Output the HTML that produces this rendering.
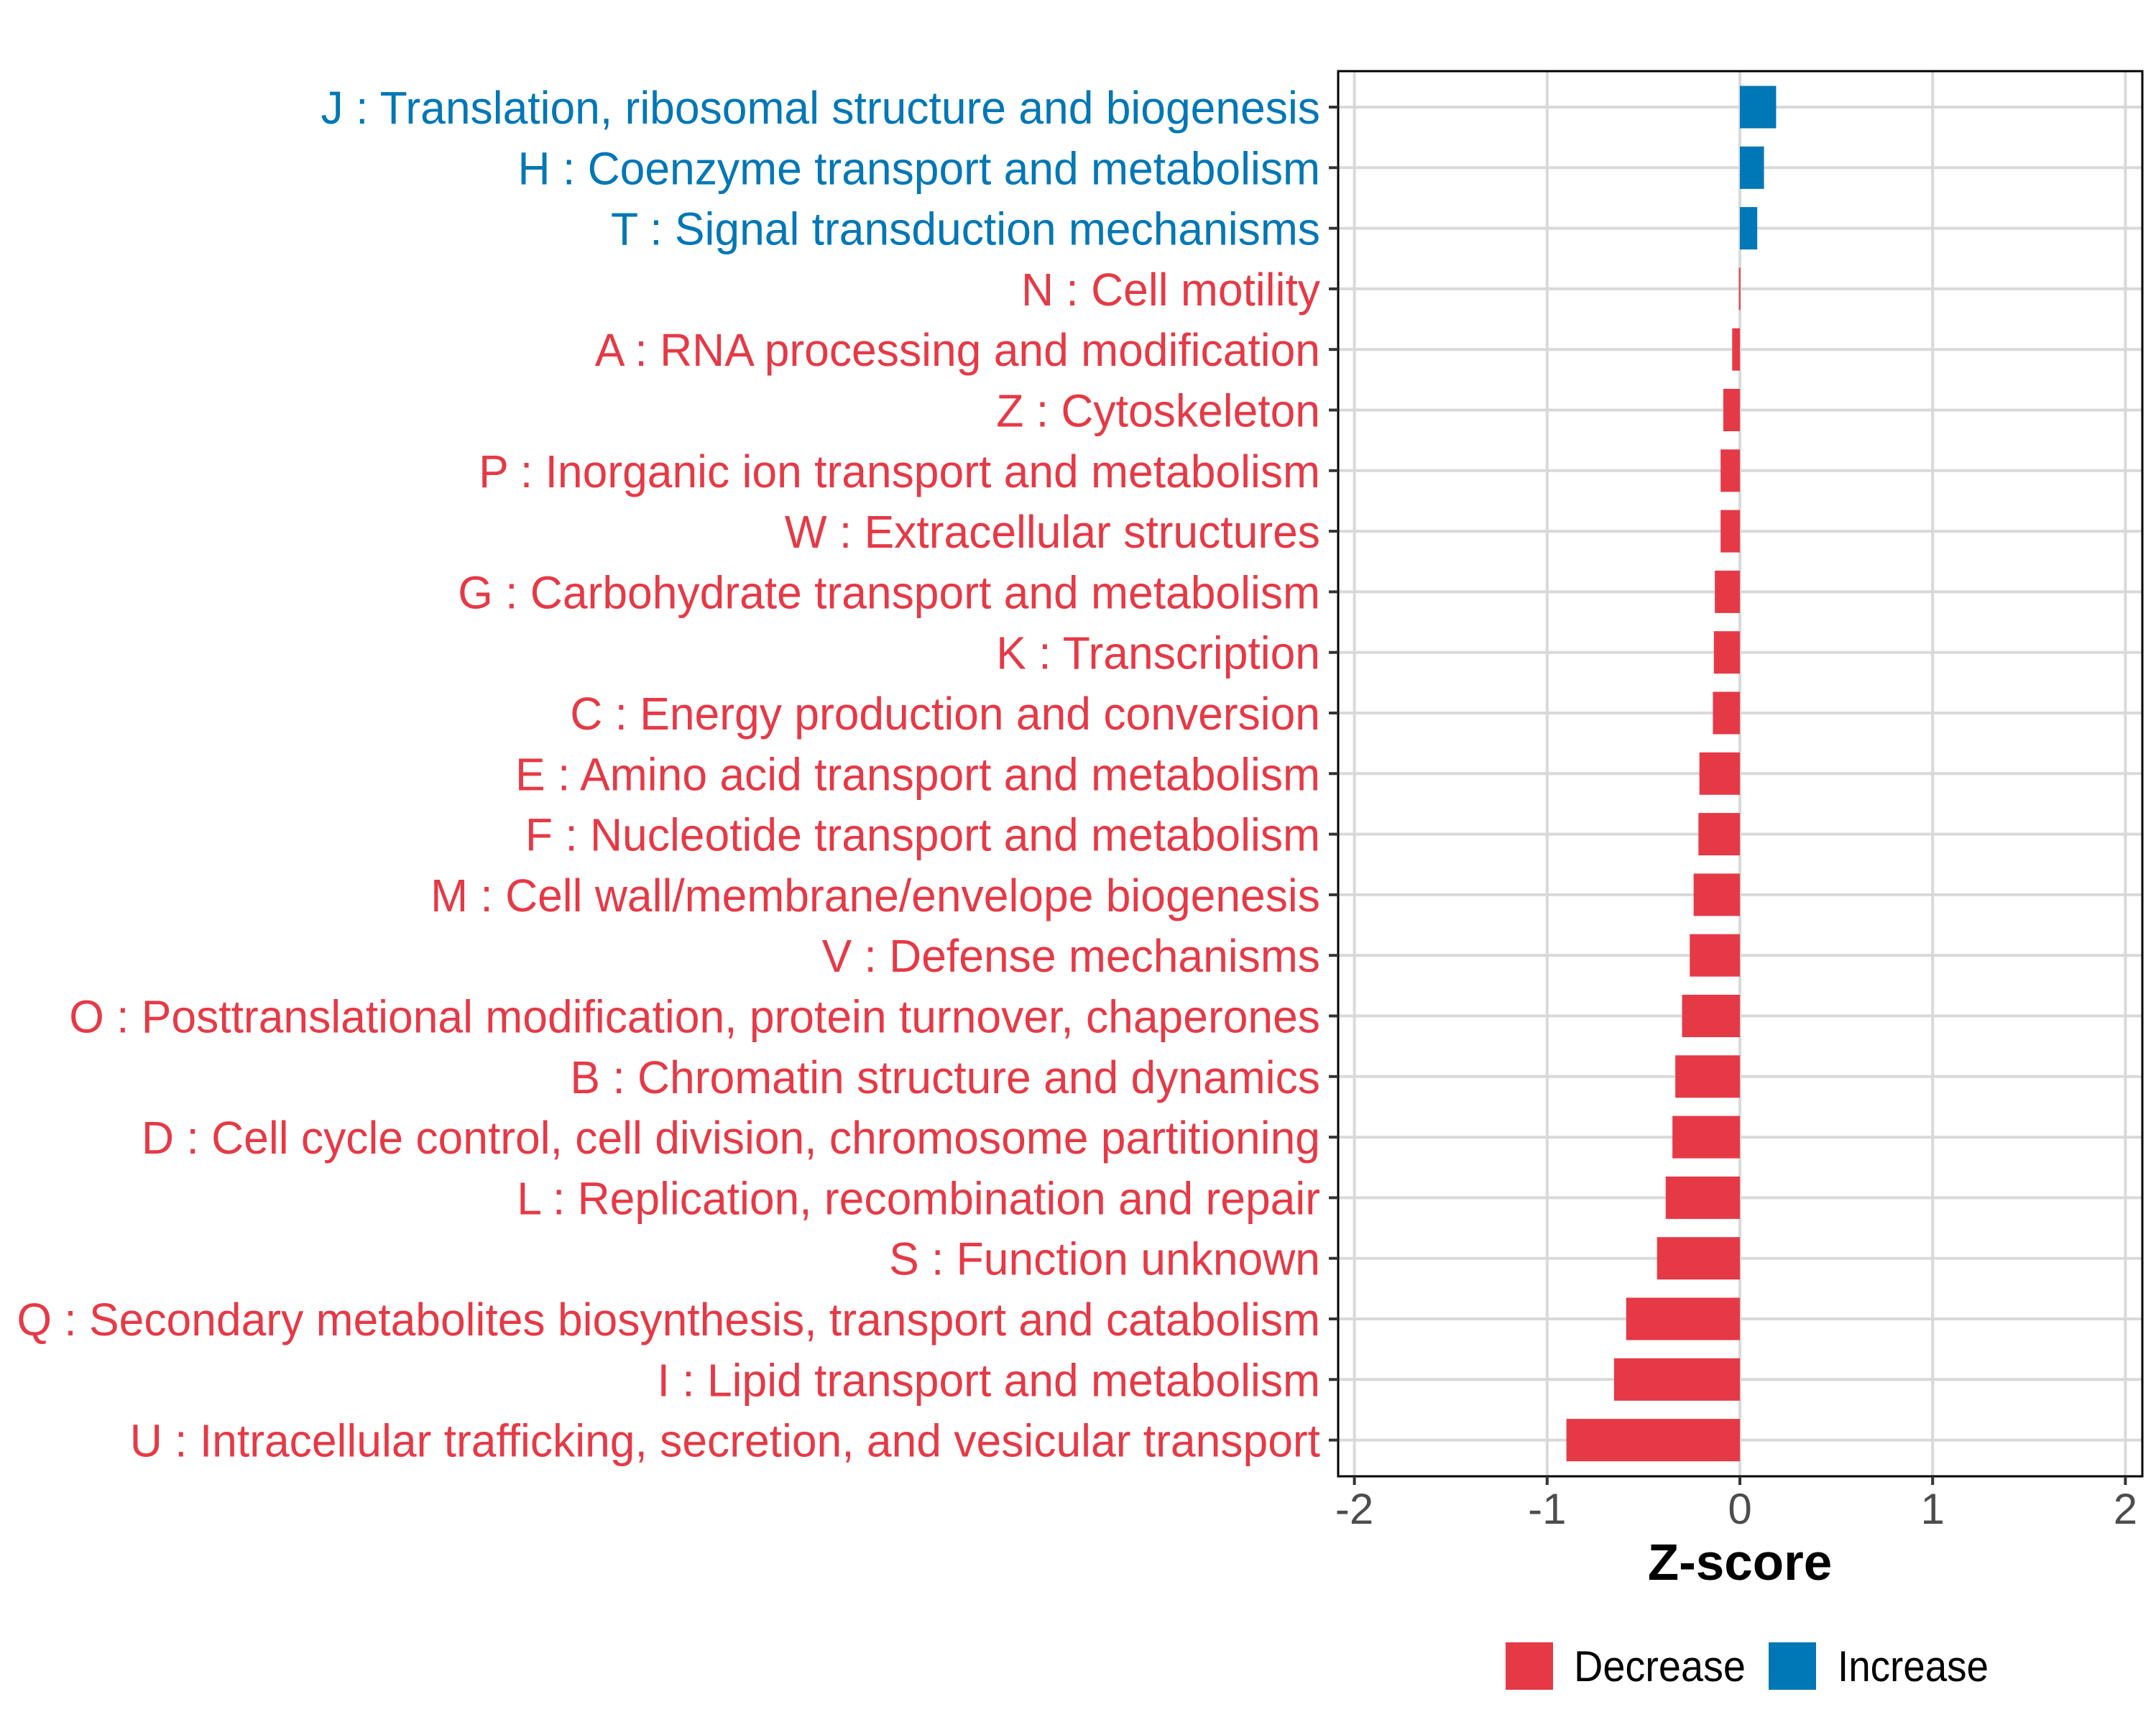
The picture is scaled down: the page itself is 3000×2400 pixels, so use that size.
<!DOCTYPE html>
<html><head><meta charset="utf-8"><style>
html,body{margin:0;padding:0;background:#fff}
svg{display:block}
text{font-family:"Liberation Sans",Arial,sans-serif}
</style></head><body>
<svg id="chart" width="3000" height="2400" viewBox="0 0 3000 2400" xmlns="http://www.w3.org/2000/svg">
<rect x="0" y="0" width="3000" height="2400" fill="#fff"/>
<g id="grid"></g>
<g id="bars"></g>
<rect x="1862" y="99" width="1119" height="1955" fill="none" stroke="#000" stroke-width="3"/>
<g id="yaxis"></g>
<g id="xaxis"></g>
<text x="2421" y="2198" text-anchor="middle" font-size="71" font-weight="bold" fill="#000">Z-score</text>
<g>
<rect x="2095" y="2285" width="66" height="66" fill="#E63946"/>
<text x="2190" y="2339" font-size="60" fill="#000" textLength="239" lengthAdjust="spacingAndGlyphs">Decrease</text>
<rect x="2461" y="2285" width="66" height="66" fill="#0077B6"/>
<text x="2557" y="2339" font-size="60" fill="#000" textLength="210" lengthAdjust="spacingAndGlyphs">Increase</text>
</g>
</svg>
<script>
const categories = [
"J : Translation, ribosomal structure and biogenesis",
"H : Coenzyme transport and metabolism",
"T : Signal transduction mechanisms",
"N : Cell motility",
"A : RNA processing and modification",
"Z : Cytoskeleton",
"P : Inorganic ion transport and metabolism",
"W : Extracellular structures",
"G : Carbohydrate transport and metabolism",
"K : Transcription",
"C : Energy production and conversion",
"E : Amino acid transport and metabolism",
"F : Nucleotide transport and metabolism",
"M : Cell wall/membrane/envelope biogenesis",
"V : Defense mechanisms",
"O : Posttranslational modification, protein turnover, chaperones",
"B : Chromatin structure and dynamics",
"D : Cell cycle control, cell division, chromosome partitioning",
"L : Replication, recombination and repair",
"S : Function unknown",
"Q : Secondary metabolites biosynthesis, transport and catabolism",
"I : Lipid transport and metabolism",
"U : Intracellular trafficking, secretion, and vesicular transport"
];
const zscores = [0.188,0.125,0.09,-0.005,-0.04,-0.086,-0.1,-0.1,-0.13,-0.135,-0.14,-0.21,-0.215,-0.24,-0.26,-0.3,-0.335,-0.35,-0.385,-0.43,-0.59,-0.653,-0.9];
const xTicks = [-2,-1,0,1,2];
const xTickLabels = ["-2","-1","0","1","2"];

const NS="http://www.w3.org/2000/svg";
const x = v => 2421 + v*268.2;
const y = i => 149 + i*84.3;
function mk(tag, attrs, parent){const e=document.createElementNS(NS,tag);for(const k in attrs)e.setAttribute(k,attrs[k]);parent.appendChild(e);return e;}
const grid=document.getElementById('grid'), bars=document.getElementById('bars'), ya=document.getElementById('yaxis'), xa=document.getElementById('xaxis');
xTicks.forEach((t,i)=>{
  const g=mk('line',{x1:x(t),x2:x(t),y1:99,y2:2054,stroke:'#d9d9d9','stroke-width':4},grid);
  
  
  const tk=mk('line',{x1:x(t),x2:x(t),y1:2054,y2:2066,stroke:'#333','stroke-width':4},xa);
  
  
  const tl=mk('text',{x:x(t),y:2120,'text-anchor':'middle','font-size':60,fill:'#4d4d4d'},xa);
  tl.textContent=xTickLabels[i];
  
  
});
const labels=[];
categories.forEach((c,i)=>{
  const g=mk('line',{x1:1862,x2:2981,y1:y(i),y2:y(i),stroke:'#d9d9d9','stroke-width':4},grid);
  
  
  const v=zscores[i];
  const col=v>=0?'#0077B6':'#E63946';
  const w=Math.max(Math.abs(x(v)-x(0)),2);
  const b=mk('rect',{x:Math.min(x(v),x(0)),y:y(i)-29.5,width:w,height:59,fill:col},bars);
  
  
  const tk=mk('line',{x1:1849,x2:1862,y1:y(i),y2:y(i),stroke:'#333','stroke-width':4},ya);
  
  
  const t=mk('text',{x:1837,y:y(i)+23,'text-anchor':'end','font-size':64,fill:col},ya);
  t.textContent=c;
  
  
  labels.push(t);
});
let maxW=0;labels.forEach(t=>{maxW=Math.max(maxW,t.getComputedTextLength());});
if(maxW>0){const s=1814/maxW;labels.forEach(t=>{t.setAttribute('transform','translate(1837,0) scale('+s+',1) translate(-1837,0)');});}
</script>
</body></html>
